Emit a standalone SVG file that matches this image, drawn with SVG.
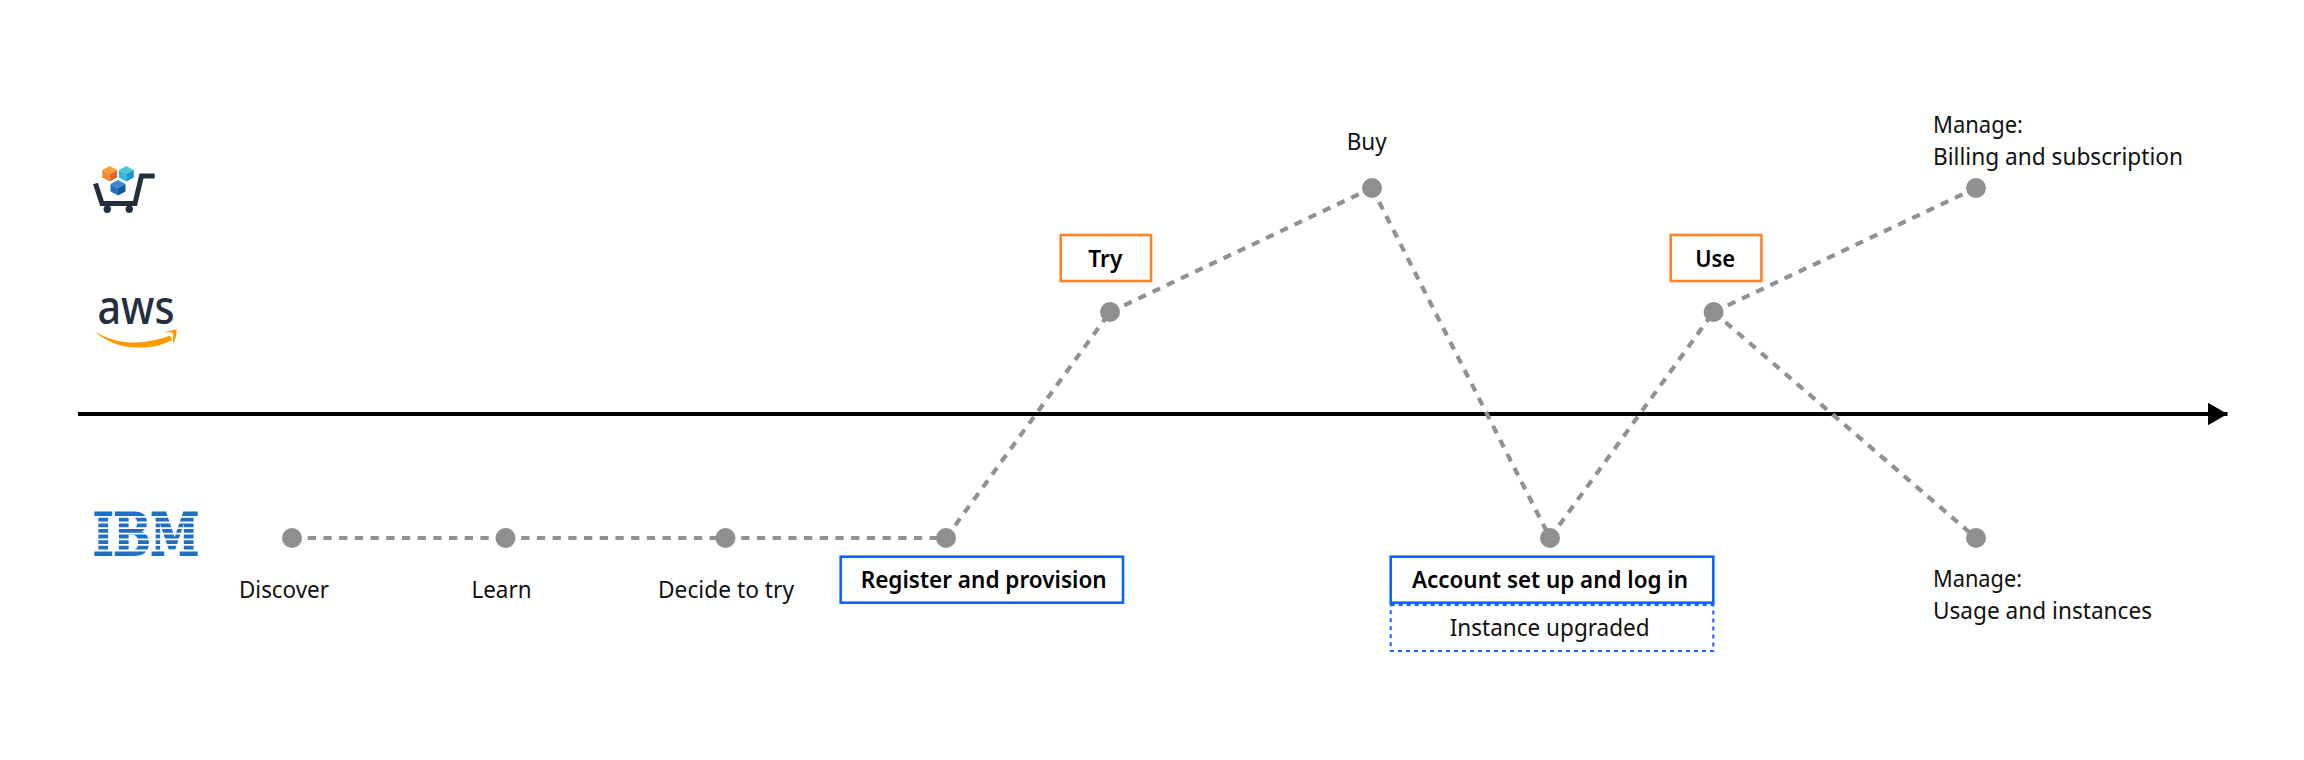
<svg xmlns="http://www.w3.org/2000/svg" width="2304" height="760" viewBox="0 0 2304 760">
<style>
text{font-family:"Noto Sans","Open Sans",sans-serif;font-size:23.400px;fill:#111}
text.b{font-weight:600;fill:#000;font-size:22.800px}
.m{text-anchor:start}
.dash{fill:none;stroke:#919191;stroke-width:4.200;stroke-dasharray:8.300 7.400}
.dot{fill:#8f8f8f}
.blue{fill:#fff;stroke:#0f62fe;stroke-width:2.600}
.orange{fill:#fff;stroke:#ff832b;stroke-width:2.600}
.dotted{fill:#fff;stroke:#0f62fe;stroke-width:2;stroke-dasharray:4 4}
.navy{fill:none;stroke:#232f3e;stroke-width:5}
</style>
<defs>
<marker id="ah" markerUnits="userSpaceOnUse" markerWidth="20" markerHeight="23" refX="20" refY="11.500" orient="auto"><path d="M0 0L20 11.500L0 23Z" fill="#000"/></marker>
</defs>
<g id="connectors">
<path id="axis" d="M78 414H2227.500" fill="none" stroke="#000" stroke-width="4" marker-end="url(#ah)"/>
<path class="dash" d="M292 538H505.500"/>
<path class="dash" d="M505.500 538H725.500"/>
<path class="dash" d="M725.500 538H946"/>
<path class="dash" d="M946 538L1110 312"/>
<path class="dash" d="M1110 312L1372 188"/>
<path class="dash" d="M1372 188L1550 538"/>
<path class="dash" d="M1550 538L1713.600 312"/>
<path class="dash" d="M1713.600 312L1976 188"/>
<path class="dash" d="M1713.600 312L1976 538"/>
</g>
<g id="logo-cart">
<path class="navy" d="M95.500 183.500L102 203.500H135L141.500 176H154.700"/>
<circle cx="107.300" cy="209.300" r="3.700" fill="#232f3e"/>
<circle cx="129.300" cy="209.300" r="3.700" fill="#232f3e"/>
<polygon points="109.700,166 117.200,170 109.700,174 102.200,170" fill="#ffa040"/>
<polygon points="102.200,170 109.700,174 109.700,181.500 102.200,177.500" fill="#f58b32"/>
<polygon points="117.200,170 109.700,174 109.700,181.500 117.200,177.500" fill="#e4672a"/>
<polygon points="126.300,166 133.800,170 126.300,174 118.800,170" fill="#4cc6de"/>
<polygon points="118.800,170 126.300,174 126.300,181.500 118.800,177.500" fill="#2fb9d6"/>
<polygon points="133.800,170 126.300,174 126.300,181.500 133.800,177.500" fill="#1a95c4"/>
<polygon points="118,180 125.500,184 118,188 110.500,184" fill="#3b8ad0"/>
<polygon points="110.500,184 118,188 118,195.500 110.500,191.500" fill="#2273bf"/>
<polygon points="125.500,184 118,188 118,195.500 125.500,191.500" fill="#17589f"/>
</g>
<g id="logo-aws">
<text x="97.500" y="323.500" textLength="77" lengthAdjust="spacingAndGlyphs" style="font-size:47px;font-weight:500;fill:#232f3e">aws</text>
<path d="M95 331.500C108 339.500 122 343 136 342.500C148 342 160 339.500 170 335.500L172 340C160 346.500 148 348 135 347.500C120 347 105 341 95 331.500Z" fill="#ff9900"/>
<path d="M162.700 332.500L176.500 329.300C177 335 175.500 340 172.700 344C173 339 173.500 335.500 172.500 332.500C170 332 166 332.500 162.700 332.500Z" fill="#ff9900"/>
</g>
<g id="logo-ibm">
<text x="93" y="554.700" textLength="106" lengthAdjust="spacingAndGlyphs" style="font-family:'DejaVu Serif',serif;font-weight:700;font-size:58px;fill:#1f70c1;stroke:#1f70c1;stroke-width:2">IBM</text>
<path d="M88 516.900H204M88 522.500H204M88 528.100H204M88 533.700H204M88 539.300H204M88 544.900H204M88 550.500H204" fill="none" stroke="#fff" stroke-width="1.800"/>
</g>
<g id="discover"><circle class="dot" cx="292" cy="538" r="10"/><text x="284" y="598" text-anchor="middle" textLength="90" lengthAdjust="spacingAndGlyphs">Discover</text></g>
<g id="learn"><circle class="dot" cx="505.500" cy="538" r="10"/><text x="501.500" y="598" text-anchor="middle" textLength="60" lengthAdjust="spacingAndGlyphs">Learn</text></g>
<g id="decide"><circle class="dot" cx="725.500" cy="538" r="10"/><text x="726" y="598" text-anchor="middle" textLength="136" lengthAdjust="spacingAndGlyphs">Decide to try</text></g>
<g id="register"><circle class="dot" cx="946" cy="538" r="10"/><rect class="blue" x="840.700" y="556.700" width="282.300" height="46"/><text class="b" x="983.700" y="587.700" text-anchor="middle" textLength="246" lengthAdjust="spacingAndGlyphs">Register and provision</text></g>
<g id="try"><circle class="dot" cx="1110" cy="312" r="10"/><rect class="orange" x="1060.700" y="235" width="90.300" height="46"/><text class="b" x="1105.300" y="267.300" text-anchor="middle" textLength="34" lengthAdjust="spacingAndGlyphs">Try</text></g>
<g id="buy"><circle class="dot" cx="1372" cy="188" r="10"/><text x="1366.700" y="150" text-anchor="middle" textLength="40" lengthAdjust="spacingAndGlyphs">Buy</text></g>
<g id="account"><circle class="dot" cx="1550" cy="538" r="10"/><rect class="dotted" x="1390.700" y="605" width="322.600" height="46"/><rect class="blue" x="1390.700" y="556.700" width="322.600" height="46"/><text class="b" x="1550" y="587.700" text-anchor="middle" textLength="276" lengthAdjust="spacingAndGlyphs">Account set up and log in</text><text x="1549.700" y="635.700" text-anchor="middle" textLength="200" lengthAdjust="spacingAndGlyphs">Instance upgraded</text></g>
<g id="use"><circle class="dot" cx="1713.600" cy="312" r="10"/><rect class="orange" x="1670.700" y="235" width="90.700" height="46"/><text class="b" x="1715.200" y="266.700" text-anchor="middle" textLength="40" lengthAdjust="spacingAndGlyphs">Use</text></g>
<g id="billing"><circle class="dot" cx="1976" cy="188" r="10"/><text class="m" x="1933" y="133" textLength="90" lengthAdjust="spacingAndGlyphs">Manage:</text><text class="m" x="1933" y="165" textLength="250" lengthAdjust="spacingAndGlyphs">Billing and subscription</text></g>
<g id="usage"><circle class="dot" cx="1976" cy="538" r="10"/><text class="m" x="1933" y="587" textLength="89" lengthAdjust="spacingAndGlyphs">Manage:</text><text class="m" x="1933" y="619" textLength="219" lengthAdjust="spacingAndGlyphs">Usage and instances</text></g>
</svg>
